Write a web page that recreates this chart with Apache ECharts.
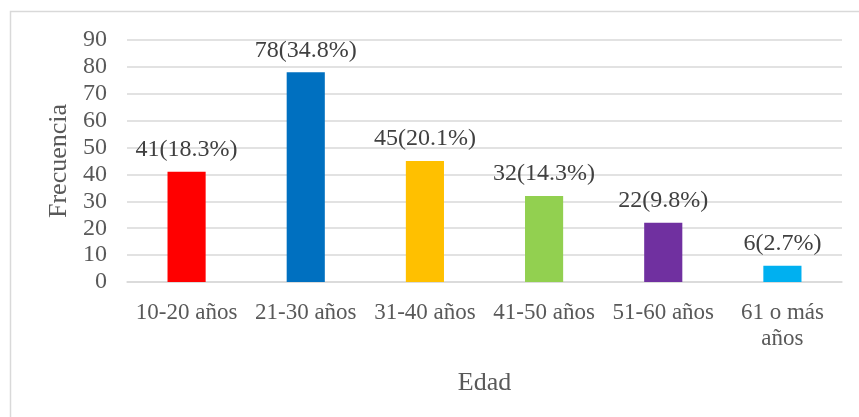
<!DOCTYPE html>
<html><head><meta charset="utf-8">
<script src="https://cdn.jsdelivr.net/npm/echarts@6/dist/echarts.min.js"></script>
<style>html,body{margin:0;padding:0;background:#fff}#c{width:859px;height:417px}</style>
</head><body><div id="c"></div>
<script>
const categories = ['10-20 años','21-30 años','31-40 años','41-50 años','51-60 años','61 o más\naños'];
const frecuencia = [41,78,45,32,22,6];
const porcentaje = ['18.3%','34.8%','20.1%','14.3%','9.8%','2.7%'];
const colores = ['#FF0000','#0070C0','#FFC000','#92D050','#7030A0','#00B0F0'];
const yTicks = {min:0,max:90,interval:10};
const font = 'Liberation Serif';
const txt = '#595959';
const chart = echarts.init(document.getElementById('c'));
chart.setOption({
  animation:false,
  backgroundColor:'#fff',
  graphic:[{type:'rect',shape:{x:10.5,y:11.5,width:860,height:420},style:{fill:'none',stroke:'#d9d9d9',lineWidth:1.5},silent:true}],
  grid:{left:127,right:17,top:40,bottom:135,containLabel:false},
  xAxis:{type:'category',data:categories,
    name:'Edad',nameLocation:'middle',nameGap:88,
    nameTextStyle:{fontFamily:font,fontSize:26,color:txt},
    axisLine:{lineStyle:{color:'#d9d9d9',width:1.5}},axisTick:{show:false},
    axisLabel:{interval:0,margin:18,color:txt,fontFamily:font,fontSize:23,lineHeight:26}},
  yAxis:{type:'value',min:yTicks.min,max:yTicks.max,interval:yTicks.interval,
    name:'Frecuencia',nameLocation:'middle',nameGap:54,
    nameTextStyle:{fontFamily:font,fontSize:26,color:txt},
    axisLine:{show:false},axisTick:{show:false},
    splitLine:{lineStyle:{color:'#d9d9d9',width:1.5}},
    axisLabel:{margin:20,color:txt,fontFamily:font,fontSize:24}},
  series:[{type:'bar',barWidth:'32%',
    data:frecuencia.map((v,i)=>({value:v,itemStyle:{color:colores[i]}})),
    label:{show:true,position:'top',distance:10,color:'#404040',fontFamily:font,fontSize:24,
      formatter:p=>p.value+'('+porcentaje[p.dataIndex]+')'}}]
});
</script></body></html>
